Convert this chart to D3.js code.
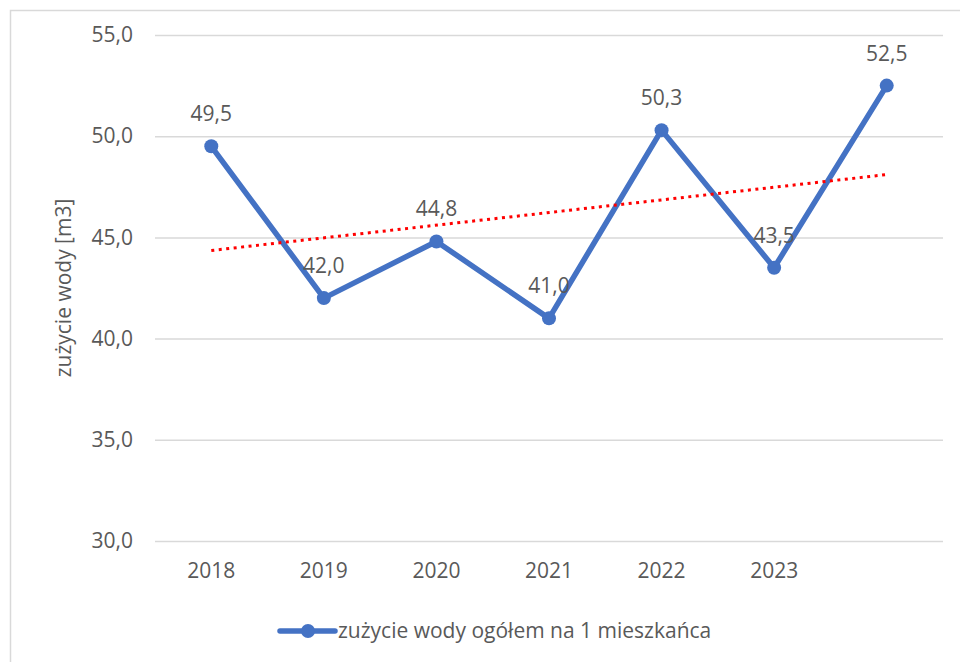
<!DOCTYPE html>
<html>
<head>
<meta charset="utf-8">
<script src="https://cdn.jsdelivr.net/npm/d3@7"></script>
<style>
  body { margin: 0; background: #fff; }
  text { font-family: "Open Sans", "Noto Sans", sans-serif; fill: #595959; }
</style>
</head>
<body>
<div class="chart"></div>
<script>
// data
var years = ["2018", "2019", "2020", "2021", "2022", "2023", ""];
var values = [49.5, 42.0, 44.8, 41.0, 50.3, 43.5, 52.5];
var yTicks = [30, 35, 40, 45, 50, 55];
var seriesName = "zużycie wody ogółem na 1 mieszkańca";
var yLabel = "zużycie wody [m3]";

var W = 960, H = 662;
var fs = 21;
var margin = {top: 35, left: 155, right: 17, bottom: 121};
var width = W - margin.left - margin.right,
    height = H - margin.top - margin.bottom;

var svg = d3.select(".chart").append("svg")
    .attr("width", W).attr("height", H);

// chart area frame
svg.append("rect")
    .attr("x", 10.5).attr("y", 10.5)
    .attr("width", W + 20).attr("height", H + 20)
    .attr("fill", "#fff").attr("stroke", "#d9d9d9").attr("stroke-width", 1.5);

var g = svg.append("g")
    .attr("transform", "translate(" + margin.left + "," + margin.top + ")");

var idx = d3.range(values.length);
var x = d3.scaleBand().domain(idx).range([0, width]);
var y = d3.scaleLinear().domain([30, 55]).range([height, 0]);
var cx = function(i) { return x(i) + x.bandwidth() / 2; };
var fmt = function(v) { return d3.format(".1f")(v).replace(".", ","); };

// gridlines + y labels
var yAxis = d3.axisLeft(y).tickValues(yTicks).tickSize(-width).tickPadding(22).tickFormat(fmt);
g.append("g").call(yAxis)
    .call(function(s) {
      s.select(".domain").remove();
      s.selectAll(".tick line").attr("stroke", "#d9d9d9").attr("stroke-width", 1.5);
      s.selectAll(".tick text").attr("font-size", fs).attr("fill", "#595959")
        .attr("font-family", "Open Sans");
    });

// x labels
var xAxis = d3.axisBottom(x).tickSize(0).tickPadding(22).tickFormat(function(i) { return years[i]; });
g.append("g").attr("transform", "translate(0," + height + ")").call(xAxis)
    .call(function(s) {
      s.select(".domain").remove();
      s.selectAll(".tick text").attr("font-size", fs).attr("fill", "#595959")
        .attr("font-family", "Open Sans");
    });

// series line
var line = d3.line().x(function(d, i) { return cx(i); }).y(function(d) { return y(d); });
g.append("path").datum(values)
    .attr("d", line).attr("fill", "none")
    .attr("stroke", "#4472c4").attr("stroke-width", 5.5)
    .attr("stroke-linejoin", "round").attr("stroke-linecap", "round");

// linear trend
var xm = d3.mean(idx), ym = d3.mean(values);
var slope = d3.sum(idx, function(i) { return (i - xm) * (values[i] - ym); }) /
            d3.sum(idx, function(i) { return (i - xm) * (i - xm); });
var trend = function(i) { return ym + slope * (i - xm); };
g.append("line")
    .attr("x1", cx(0)).attr("y1", y(trend(0)))
    .attr("x2", cx(idx.length - 1)).attr("y2", y(trend(idx.length - 1)))
    .attr("stroke", "#ff0000").attr("stroke-width", 3)
    .attr("stroke-dasharray", "3 4.5");

// markers
g.selectAll(".dot").data(values).enter().append("circle")
    .attr("class", "dot")
    .attr("cx", function(d, i) { return cx(i); })
    .attr("cy", function(d) { return y(d); })
    .attr("r", 7).attr("fill", "#4472c4");

// data labels
g.selectAll(".lbl").data(values).enter().append("text")
    .attr("class", "lbl")
    .attr("x", function(d, i) { return cx(i); })
    .attr("y", function(d) { return y(d) - 25; })
    .attr("text-anchor", "middle").attr("font-size", fs)
    .text(fmt);

// y title
svg.append("text")
    .attr("transform", "translate(71," + (margin.top + height / 2) + ") rotate(-90)")
    .attr("text-anchor", "middle").attr("font-size", fs)
    .text(yLabel);

// legend
var lg = svg.append("g").attr("transform", "translate(280,631)");
lg.append("line").attr("x1", 0).attr("x2", 55).attr("y1", 0).attr("y2", 0)
    .attr("stroke", "#4472c4").attr("stroke-width", 5.5).attr("stroke-linecap", "round");
lg.append("circle").attr("cx", 28).attr("cy", 0).attr("r", 7).attr("fill", "#4472c4");
lg.append("text").attr("x", 58).attr("y", 7).attr("font-size", fs).text(seriesName);
</script>
</body>
</html>
